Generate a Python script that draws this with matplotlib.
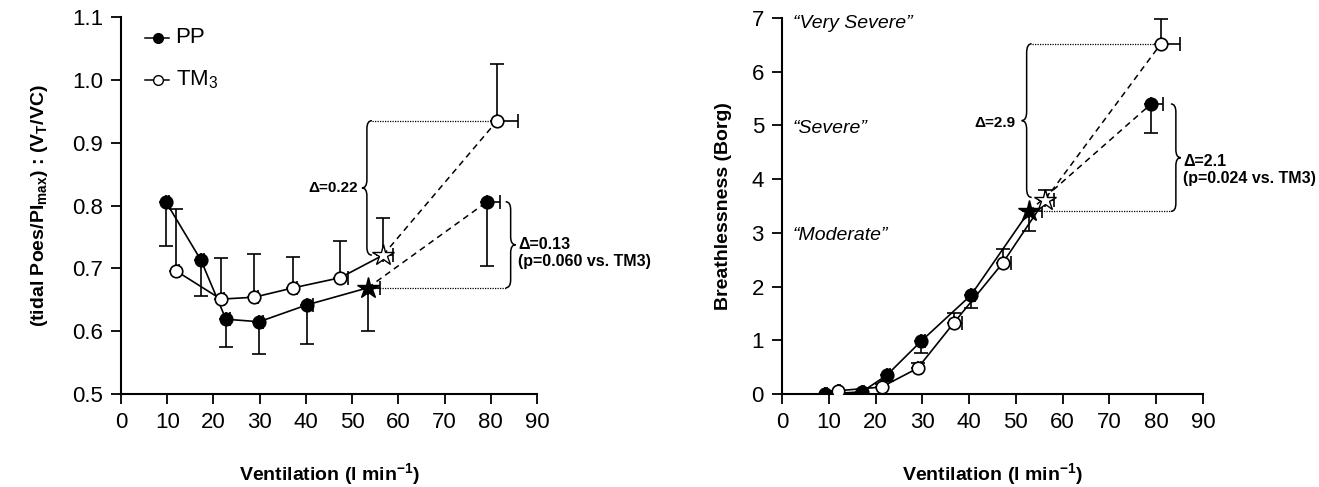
import numpy as np
import matplotlib
matplotlib.use("Agg")
from matplotlib import pyplot as plt
from matplotlib.path import Path
from matplotlib.patches import PathPatch
from matplotlib.transforms import IdentityTransform

plt.rcParams['font.family'] = ['Liberation Sans', 'DejaVu Sans']
plt.rcParams['mathtext.fontset'] = 'custom'
plt.rcParams['mathtext.rm'] = 'Liberation Sans'
plt.rcParams['mathtext.it'] = 'Liberation Sans:italic'
plt.rcParams['mathtext.bf'] = 'Liberation Sans:bold'

# ---- left panel: (tidal Poes/PImax) : (VT/VC)
pp_x = [9.7, 17.3, 22.7, 29.9, 40.3]
pp_y = [0.806, 0.713, 0.619, 0.615, 0.642]
pp_err = [0.070, 0.057, 0.044, 0.051, 0.062]
pp_xerr = [0.6, 0.6, 0.8, 0.8, 1.3]
pp_star = (53.4, 0.669, 0.069, 2.6)
pp_end = (79.2, 0.806, 0.102, 2.8)

tm_x = [11.9, 21.6, 28.8, 37.3, 47.4]
tm_y = [0.696, 0.651, 0.654, 0.669, 0.685]
tm_err = [0.099, 0.065, 0.069, 0.049, 0.059]
tm_xerr = [0.6, 0.6, 0.8, 0.8, 1.7]
tm_star = (56.7, 0.721, 0.059, 2.2)
tm_end = (81.4, 0.935, 0.090, 4.4)

# ---- right panel: breathlessness (Borg)
bpp_x = [9.2, 17.1, 22.4, 29.7, 40.4]
bpp_y = [0.0, 0.04, 0.35, 0.98, 1.84]
bpp_err = [0.0, 0.02, 0.1, 0.22, 0.24]
bpp_xerr = [0.4, 0.4, 0.6, 0.8, 0.9]
bpp_star = (52.8, 3.40, 0.36, 2.7)
bpp_end = (78.9, 5.40, 0.54, 2.6)

btm_x = [11.9, 21.3, 29.0, 36.7, 47.2]
btm_y = [0.06, 0.13, 0.48, 1.32, 2.44]
btm_err = [0.0, 0.05, 0.10, 0.19, 0.26]
btm_xerr = [0.5, 0.6, 0.8, 1.8, 1.7]
btm_star = (56.2, 3.61, 0.19, 1.9)
btm_end = (81.0, 6.52, 0.46, 4.0)

fig = plt.figure(figsize=(13.19, 4.87), dpi=100)
ax1 = fig.add_axes([121 / 1319, 1 - 394 / 487, (537 - 121) / 1319, (394 - 17) / 487])
ax2 = fig.add_axes([782 / 1319, 1 - 394 / 487, (1203 - 782) / 1319, (394 - 18) / 487])

ms = 9
cap = 5


def draw_series(ax, xs, ys, err, xerr, star, end, filled):
    face = 'black' if filled else 'white'
    lo = [e for e in err] if filled else [0] * len(err)
    hi = [0] * len(err) if filled else [e for e in err]
    ax.errorbar(xs, ys, yerr=[lo, hi], xerr=[[0] * len(xs), xerr], fmt='none',
                ecolor='black', elinewidth=1.2, capsize=cap, capthick=1.2, zorder=2)
    sx, sy, se, sxe = star
    ex, ey, ee, exe = end
    for (px, py, pe, pxe) in (star, end):
        ax.errorbar([px], [py], yerr=[[pe if filled else 0], [0 if filled else pe]],
                    xerr=[[0], [pxe]], fmt='none', ecolor='black', elinewidth=1.2,
                    capsize=cap, capthick=1.2, zorder=2)
    ax.plot(list(xs) + [sx], list(ys) + [sy], color='black', lw=1.2, zorder=3)
    ax.plot([sx, ex], [sy, ey], color='black', lw=1.1, ls=(0, (4, 3)), zorder=3)
    ax.plot(xs, ys, 'o', ms=ms, mfc=face, mec='black', mew=1.2, zorder=4)
    ax.plot([ex], [ey], 'o', ms=ms, mfc=face, mec='black', mew=1.2, zorder=4)
    ax.plot([sx], [sy], '*', ms=16, mfc=face, mec='black', mew=1.0, zorder=5)


def brace(ax, x, y0, y1, side, w=5, r=8):
    # side='left' -> "{" tip points left ; 'right' -> "}"
    fig.canvas.draw()
    px, ptop = ax.transData.transform((x, y1))
    _, pbot = ax.transData.transform((x, y0))
    pmid = (ptop + pbot) / 2
    s = 1 if side == 'right' else -1
    xe = px - s * w
    xt = px + s * w
    verts = [(xe, ptop), (px, ptop), (px, ptop - r),
             (px, pmid + r), (px, pmid), (xt, pmid),
             (px, pmid), (px, pmid - r),
             (px, pbot + r), (px, pbot), (xe, pbot)]
    codes = [Path.MOVETO, Path.CURVE3, Path.CURVE3,
             Path.LINETO, Path.CURVE3, Path.CURVE3,
             Path.CURVE3, Path.CURVE3,
             Path.LINETO, Path.CURVE3, Path.CURVE3]
    patch = PathPatch(Path(verts, codes), fill=False, lw=1.1, color='black',
                      transform=IdentityTransform(), clip_on=False)
    ax.add_artist(patch)


for ax in (ax1, ax2):
    ax.spines['top'].set_visible(False)
    ax.spines['right'].set_visible(False)
    ax.spines['left'].set_linewidth(1.5)
    ax.spines['bottom'].set_linewidth(1.5)
    ax.tick_params(direction='out', length=7, width=1.3, labelsize=16, pad=6)
    ax.set_xlim(0, 90)
    ax.set_xticks(np.arange(0, 91, 10))
    ax.set_xlabel(r"Ventilation (l min$^{\mathbf{-1}}$)", fontsize=14, fontweight='bold', labelpad=20)

# left panel
draw_series(ax1, pp_x, pp_y, pp_err, pp_xerr, pp_star, pp_end, True)
draw_series(ax1, tm_x, tm_y, tm_err, tm_xerr, tm_star, tm_end, False)
ax1.set_ylim(0.5, 1.1)
ax1.set_yticks(np.arange(0.5, 1.11, 0.1))
ax1.set_yticklabels([f"{v:.1f}" for v in np.arange(0.5, 1.11, 0.1)])
ax1.set_ylabel(r"(tidal Poes/PI$_{\mathbf{max}}$) : (V$_{\mathbf{T}}$/VC)",
               fontsize=14, fontweight='bold', labelpad=16)
ax1.plot([5.2, 10.3], [1.067, 1.067], color='black', lw=1.1, clip_on=False)
ax1.plot([7.9], [1.067], 'o', ms=7, mfc='black', mec='black', clip_on=False)
ax1.plot([5.2, 10.3], [1.0, 1.0], color='black', lw=1.1, clip_on=False)
ax1.plot([7.9], [1.0], 'o', ms=7, mfc='white', mec='black', clip_on=False)
ax1.text(11.8, 1.067, "PP", fontsize=16, va='center')
ax1.text(11.8, 1.0, r"TM$_3$", fontsize=16, va='center')

ax1.plot([54.3, tm_end[0]], [tm_end[1], tm_end[1]], color='black', lw=0.9, ls=(0, (1, 1)))
brace(ax1, 53.2, tm_star[1], tm_end[1], 'left')
ax1.text(51.3, (tm_star[1] + tm_end[1]) / 2, "Δ=0.22", fontsize=11, fontweight='bold',
         ha='right', va='center')
ax1.plot([pp_star[0] + 0.8, 83.3], [pp_star[1], pp_star[1]], color='black', lw=0.9, ls=(0, (1, 1)))
brace(ax1, 84.3, pp_star[1], pp_end[1], 'right')
ax1.text(85.9, 0.724, "Δ=0.13\n(p=0.060 vs. TM3)", fontsize=11.5,
         fontweight='bold', ha='left', va='center', linespacing=1.15)

# right panel
draw_series(ax2, bpp_x, bpp_y, bpp_err, bpp_xerr, bpp_star, bpp_end, True)
draw_series(ax2, btm_x, btm_y, btm_err, btm_xerr, btm_star, btm_end, False)
ax2.set_ylim(0, 7)
ax2.set_yticks(range(0, 8))
ax2.set_ylabel("Breathlessness (Borg)", fontsize=14, fontweight='bold', labelpad=14)
for lab, yv in (("\u201cVery Severe\u201d", 6.9), ("\u201cSevere\u201d", 4.95), ("\u201cModerate\u201d", 2.95)):
    ax2.text(2.3, yv, lab, fontsize=14, style='italic', ha='left', va='center')

ax2.plot([53.4, btm_end[0]], [btm_end[1], btm_end[1]], color='black', lw=0.9, ls=(0, (1, 1)))
brace(ax2, 52.3, 3.66, btm_end[1], 'left', r=9)
ax2.text(50.0, 5.05, "Δ=2.9", fontsize=11, fontweight='bold',
         ha='right', va='center')
ax2.plot([bpp_star[0] + 2.6, 83.2], [bpp_star[1], bpp_star[1]], color='black', lw=0.9, ls=(0, (1, 1)))
brace(ax2, 84.2, bpp_star[1], bpp_end[1], 'right')
ax2.text(85.8, 4.17, "Δ=2.1\n(p=0.024 vs. TM3)", fontsize=11.5,
         fontweight='bold', ha='left', va='center', linespacing=1.15)

fig.savefig("out.png", dpi=100)
